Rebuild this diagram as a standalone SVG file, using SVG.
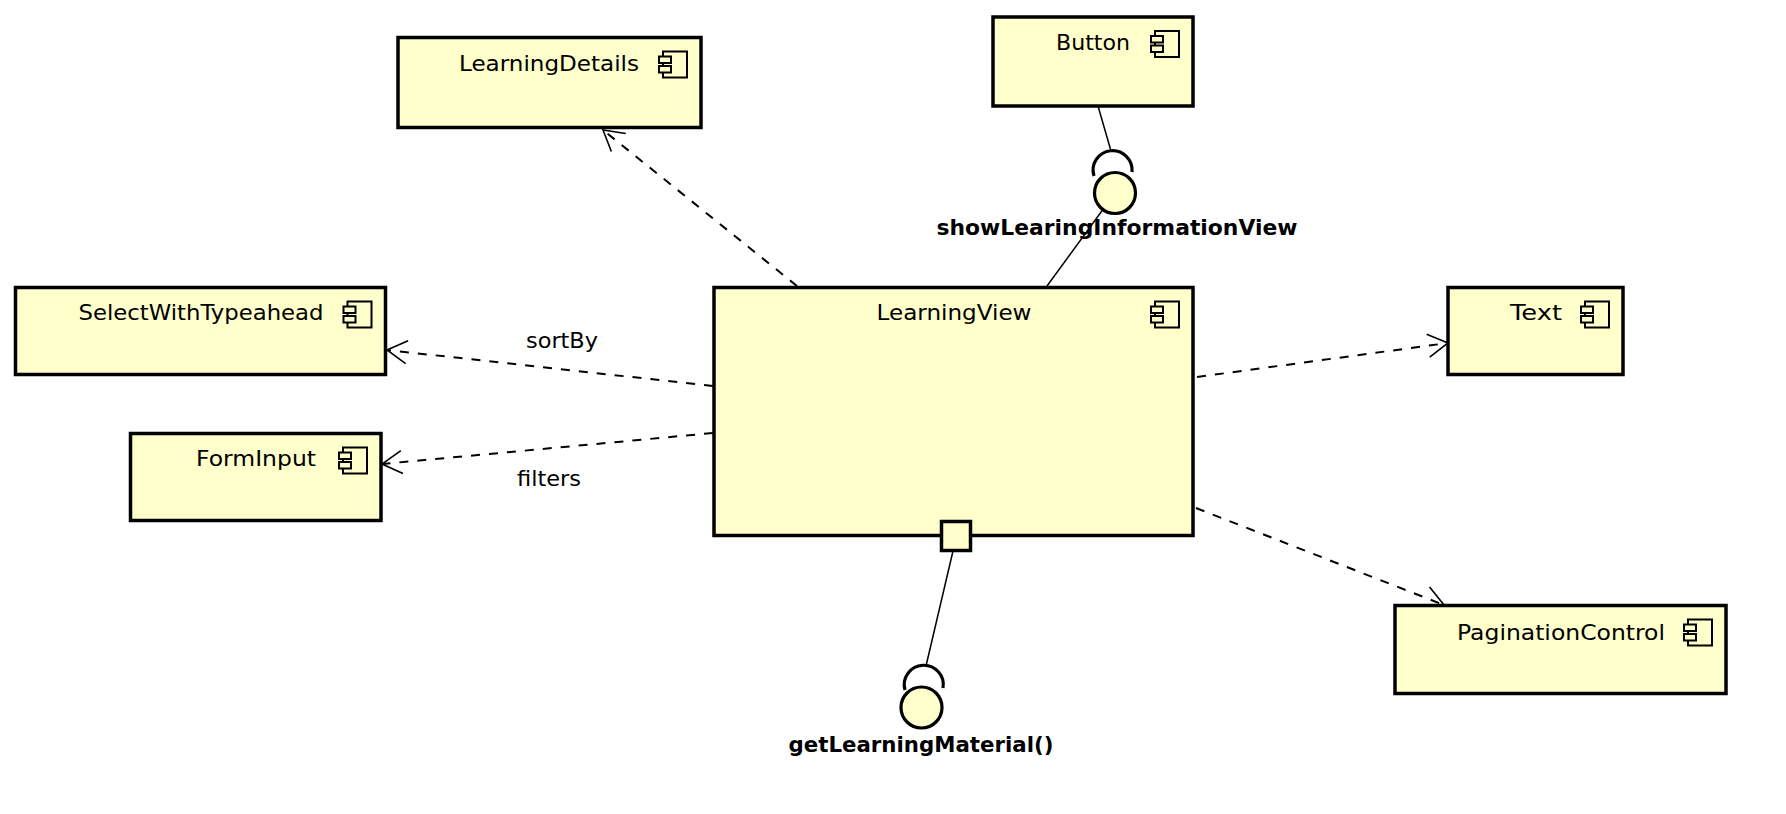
<svg xmlns="http://www.w3.org/2000/svg" xmlns:xlink="http://www.w3.org/1999/xlink" width="1786" height="814" viewBox="0 0 1786 814">
<style>
.box{fill:#FFFFCC;stroke:#000;stroke-width:3.5}
.ic rect{fill:#FFFFCC;stroke:#000;stroke-width:2}
.lbl{font-family:"DejaVu Sans","Liberation Sans",sans-serif;font-size:21px;fill:#000;text-anchor:middle}
.blbl{font-family:"DejaVu Sans","Liberation Sans",sans-serif;font-size:21px;font-weight:bold;fill:#000;text-anchor:middle}
.dep{fill:none;stroke:#000;stroke-width:2;stroke-dasharray:9 9;marker-end:url(#open)}
.sol{fill:none;stroke:#000;stroke-width:1.5}
.sock{fill:none;stroke:#000;stroke-width:3.2}
.ball{fill:#FFFFCC;stroke:#000;stroke-width:3.2}
</style>
<defs>
<marker id="open" markerUnits="userSpaceOnUse" markerWidth="30" markerHeight="30" viewBox="-25 -15 30 30" refX="0" refY="0" orient="auto">
<path d="M -20 -11.5 L 0 0 L -20 11.5" fill="none" stroke="#000" stroke-width="1.6" stroke-dasharray="none"/>
</marker>
<g id="ci" class="ic"><rect x="-38" y="14" width="24" height="26"/><rect x="-42" y="19" width="12" height="6.5"/><rect x="-42" y="28.5" width="12" height="6.5"/></g>
</defs>
<rect width="1786" height="814" fill="#fff"/>
<g id="connectors">
<path class="dep" d="M 797 286 L 603 130"/>
<path class="dep" d="M 713 386 L 387 350"/>
<path class="dep" d="M 713 433 L 382 464"/>
<path class="dep" d="M 1197 377 L 1448 343"/>
<path class="dep" d="M 1196 508 L 1444 605"/>
<path class="sol" d="M 1098 106 L 1111 151"/>
<path class="sol" d="M 1047 286 L 1115 193"/>
<path class="sol" d="M 953 551 L 926 666"/>
</g>
<g id="LearningDetails">
<rect class="box" x="398" y="37.5" width="303" height="90"/>
<use xlink:href="#ci" x="701" y="37.5"/>
<text class="lbl" x="549" y="71" textLength="180" lengthAdjust="spacingAndGlyphs">LearningDetails</text>
</g>
<g id="Button">
<rect class="box" x="993" y="17" width="200" height="89"/>
<use xlink:href="#ci" x="1193" y="17"/>
<text class="lbl" x="1093" y="50" textLength="74" lengthAdjust="spacingAndGlyphs">Button</text>
</g>
<g id="SelectWithTypeahead">
<rect class="box" x="15.5" y="287.5" width="370" height="87"/>
<use xlink:href="#ci" x="385.5" y="287.5"/>
<text class="lbl" x="201" y="320" textLength="245" lengthAdjust="spacingAndGlyphs">SelectWithTypeahead</text>
</g>
<g id="FormInput">
<rect class="box" x="130.5" y="433.5" width="250.5" height="87"/>
<use xlink:href="#ci" x="381" y="433.5"/>
<text class="lbl" x="256" y="466" textLength="120" lengthAdjust="spacingAndGlyphs">FormInput</text>
</g>
<g id="LearningView">
<rect class="box" x="714" y="287.5" width="479" height="248"/>
<use xlink:href="#ci" x="1193" y="287.5"/>
<text class="lbl" x="954" y="320" textLength="155" lengthAdjust="spacingAndGlyphs">LearningView</text>
</g>
<g id="Text">
<rect class="box" x="1448" y="287.5" width="175" height="87"/>
<use xlink:href="#ci" x="1623" y="287.5"/>
<text class="lbl" x="1536" y="320" textLength="52" lengthAdjust="spacingAndGlyphs">Text</text>
</g>
<g id="PaginationControl">
<rect class="box" x="1395" y="605.5" width="331" height="88"/>
<use xlink:href="#ci" x="1726" y="605.5"/>
<text class="lbl" x="1561" y="640" textLength="208" lengthAdjust="spacingAndGlyphs">PaginationControl</text>
</g>
<g id="port">
<rect class="box" x="941.5" y="521.5" width="29" height="29" stroke-width="3"/>
</g>
<g id="showLearingInformationView">
<path class="sock" d="M 1094 176 A 19.5 19.5 0 1 1 1132 172"/>
<circle class="ball" cx="1115" cy="193" r="20.5"/>
<text class="blbl" x="1117" y="235" textLength="361" lengthAdjust="spacingAndGlyphs">showLearingInformationView</text>
</g>
<g id="getLearningMaterial">
<path class="sock" d="M 905 690 A 19.5 19.5 0 1 1 943 688"/>
<circle class="ball" cx="921.5" cy="707.5" r="20.5"/>
<text class="blbl" x="921" y="752" textLength="265" lengthAdjust="spacingAndGlyphs">getLearningMaterial()</text>
</g>
<g id="labels">
<text class="lbl" x="562" y="348" textLength="72" lengthAdjust="spacingAndGlyphs">sortBy</text>
<text class="lbl" x="549" y="486" textLength="64" lengthAdjust="spacingAndGlyphs">filters</text>
</g>
</svg>
